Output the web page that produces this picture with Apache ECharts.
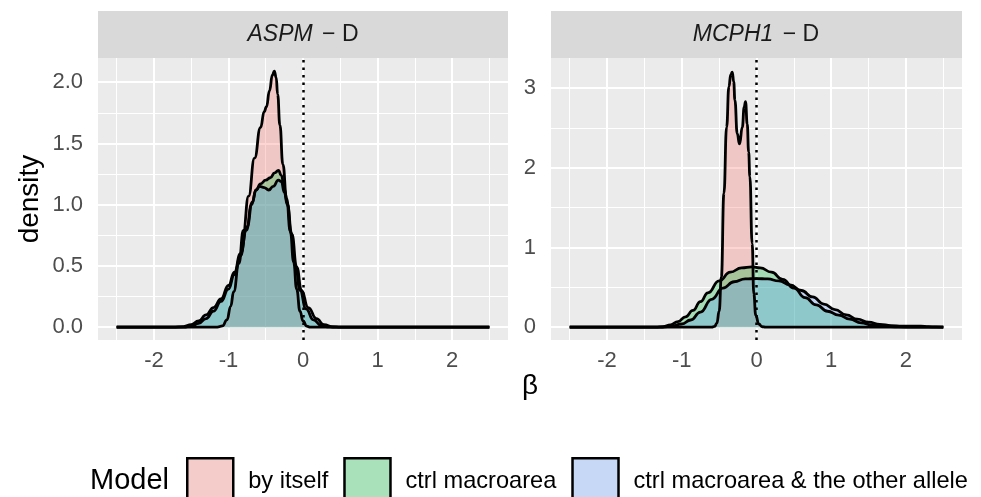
<!DOCTYPE html>
<html>
<head>
<meta charset="utf-8">
<title>ASPM / MCPH1 density</title>
<script src="https://cdn.jsdelivr.net/npm/echarts@6/dist/echarts.min.js"></script>
<style>
  html, body { margin: 0; padding: 0; background: #fff; }
  #chart { width: 981px; height: 497px; }
</style>
</head>
<body>
<div id="chart"></div>
<script>
// ---- data (beta, density) ----
const modelNames = ['by itself', 'ctrl macroarea', 'ctrl macroarea & the other allele']

// ASPM - D panel
const aspmByItselfX = [-2.5, -1.15, -1.08, -1.02, -0.97, -0.93, -0.86, -0.8, -0.73, -0.65, -0.57, -0.52, -0.49, -0.45, -0.41, -0.385, -0.36, -0.34, -0.31, -0.27, -0.22, -0.17, -0.125, -0.085, -0.04, 0, 0.05, 0.1, 2.5]
const aspmByItselfY = [0, 0, 0.01, 0.06, 0.17, 0.29, 0.52, 0.79, 1.07, 1.38, 1.63, 1.76, 1.8, 1.93, 2.06, 2.09, 2.04, 1.9, 1.65, 1.33, 1.05, 0.78, 0.53, 0.31, 0.13, 0.05, 0.008, 0, 0]
const aspmMacroX = [-2.5, -1.6, -1.5, -1.4, -1.3, -1.2, -1.1, -1.0, -0.92, -0.84, -0.76, -0.69, -0.63, -0.57, -0.5, -0.44, -0.38, -0.33, -0.29, -0.25, -0.21, -0.16, -0.1, -0.04, 0.04, 0.14, 0.24, 0.35, 0.45, 2.5]
const aspmMacroY = [0, 0, 0.008, 0.03, 0.07, 0.13, 0.21, 0.31, 0.43, 0.58, 0.79, 1.0, 1.12, 1.17, 1.2, 1.22, 1.26, 1.28, 1.24, 1.13, 1.01, 0.77, 0.5, 0.3, 0.15, 0.06, 0.015, 0.002, 0, 0]
const aspmAlleleX = [-2.5, -1.75, -1.6, -1.5, -1.4, -1.3, -1.2, -1.1, -1.0, -0.92, -0.84, -0.75, -0.68, -0.63, -0.58, -0.52, -0.46, -0.4, -0.33, -0.29, -0.25, -0.21, -0.15, -0.084, -0.02, 0.07, 0.18, 0.28, 0.4, 0.5, 2.5]
const aspmAlleleY = [0, 0, 0.005, 0.02, 0.05, 0.1, 0.16, 0.23, 0.34, 0.45, 0.6, 0.82, 1.02, 1.12, 1.15, 1.14, 1.12, 1.15, 1.2, 1.19, 1.1, 1.0, 0.76, 0.49, 0.3, 0.16, 0.07, 0.02, 0.003, 0, 0]

// MCPH1 - D panel
const mcphByItselfX = [-2.5, -0.6, -0.56, -0.53, -0.5, -0.47, -0.436, -0.4, -0.369, -0.345, -0.324, -0.305, -0.289, -0.258, -0.227, -0.19, -0.165, -0.147, -0.124, -0.105, -0.089, -0.058, -0.036, -0.01, 0.03, 0.076, 0.12, 2.5]
const mcphByItselfY = [0, 0, 0.01, 0.05, 0.2, 0.63, 1.68, 2.51, 3.02, 3.17, 3.2, 3.08, 2.85, 2.43, 2.3, 2.51, 2.76, 2.83, 2.55, 2.2, 1.89, 1.05, 0.42, 0.15, 0.04, 0.005, 0, 0]
const mcphMacroX = [-2.5, -1.35, -1.25, -1.15, -1.05, -0.95, -0.85, -0.75, -0.65, -0.5, -0.35, -0.2, -0.06, 0.05, 0.2, 0.35, 0.5, 0.65, 0.8, 0.95, 1.1, 1.25, 1.4, 1.55, 1.7, 1.9, 2.1, 2.5]
const mcphMacroY = [0, 0, 0.005, 0.03, 0.07, 0.13, 0.21, 0.32, 0.43, 0.58, 0.69, 0.745, 0.757, 0.745, 0.69, 0.6, 0.49, 0.37, 0.28, 0.2, 0.15, 0.1, 0.055, 0.025, 0.012, 0.004, 0, 0]
const mcphAlleleX = [-2.5, -1.3, -1.15, -1.0, -0.88, -0.75, -0.6, -0.45, -0.3, -0.15, 0, 0.15, 0.3, 0.45, 0.6, 0.75, 0.9, 1.05, 1.2, 1.35, 1.5, 1.65, 1.8, 1.95, 2.1, 2.2, 2.3, 2.4, 2.5]
const mcphAlleleY = [0, 0, 0.01, 0.04, 0.09, 0.19, 0.35, 0.49, 0.57, 0.605, 0.61, 0.605, 0.58, 0.53, 0.46, 0.38, 0.29, 0.22, 0.155, 0.1, 0.063, 0.035, 0.02, 0.013, 0.012, 0.012, 0.007, 0.003, 0.001]

// axis ticks
const xTicks = [-2, -1, 0, 1, 2]
const xMinor = [-2.5, -1.5, -0.5, 0.5, 1.5, 2.5]
const aspmYTicks = [0, 0.5, 1, 1.5, 2]
const aspmYMinor = [0.25, 0.75, 1.25, 1.75]
const mcphYTicks = [0, 1, 2, 3]
const mcphYMinor = [0.5, 1.5, 2.5]

const FONT = 'Liberation Sans, Arial, Helvetica, sans-serif'
// ggplot hue palette with alpha 0.3
const fills = ['rgba(248,118,109,0.3)', 'rgba(0,186,56,0.3)', 'rgba(97,156,255,0.3)']
// same fills as seen on the gray95 legend key background
const keyFills = ['rgb(244,205,202)', 'rgb(169,225,186)', 'rgb(199,216,246)']

const chart = echarts.init(document.getElementById('chart'), null, { renderer: 'canvas' })

function zip (xs, ys) {
  return xs.map((x, i) => [x, ys[i]])
}

function densitySeries (name, xs, ys, k, idx) {
  return {
    name: name,
    type: 'line',
    xAxisIndex: idx,
    yAxisIndex: idx,
    data: zip(xs, ys),
    smooth: 0.5,
    smoothMonotone: 'x',
    symbol: 'none',
    color: keyFills[k],
    lineStyle: { color: '#000', width: 2.8 },
    areaStyle: { color: fills[k], opacity: 1 },
    z: 3,
    silent: true
  }
}

// panel grid lines (white, major + minor) drawn under the densities
function gridSeries (idx, yTicks, yMinor) {
  const lines = []
  xMinor.forEach(v => lines.push({ xAxis: v, lineStyle: { width: 1 } }))
  yMinor.forEach(v => lines.push({ yAxis: v, lineStyle: { width: 1 } }))
  xTicks.forEach(v => lines.push({ xAxis: v, lineStyle: { width: 2 } }))
  yTicks.forEach(v => lines.push({ yAxis: v, lineStyle: { width: 2 } }))
  return {
    type: 'line',
    xAxisIndex: idx,
    yAxisIndex: idx,
    data: [],
    z: 1,
    silent: true,
    markLine: {
      z: 1,
      silent: true,
      symbol: ['none', 'none'],
      label: { show: false },
      lineStyle: { color: '#fff', type: 'solid' },
      emphasis: { disabled: true },
      data: lines
    }
  }
}

function zeroLine (idx) {
  return {
    type: 'line',
    xAxisIndex: idx,
    yAxisIndex: idx,
    data: [],
    z: 10,
    silent: true,
    markLine: {
      z: 10,
      silent: true,
      symbol: ['none', 'none'],
      label: { show: false },
      lineStyle: { color: '#000', width: 2.5, type: [2.5, 5] },
      emphasis: { disabled: true },
      data: [{ xAxis: 0 }]
    }
  }
}

function xAxisFor (idx) {
  return {
    type: 'value',
    gridIndex: idx,
    min: -2.75,
    max: 2.75,
    axisLine: { show: false },
    splitLine: { show: false },
    axisTick: { show: true, customValues: xTicks, length: 7, lineStyle: { color: '#333', width: 2 } },
    axisLabel: { customValues: xTicks, margin: 10, fontSize: 22, fontFamily: FONT, color: '#4D4D4D' }
  }
}

function yAxisFor (idx, min, max, ticks, fmt) {
  return {
    type: 'value',
    gridIndex: idx,
    min: min,
    max: max,
    axisLine: { show: false },
    splitLine: { show: false },
    axisTick: { show: true, customValues: ticks, length: 7, lineStyle: { color: '#333', width: 2 } },
    axisLabel: { customValues: ticks, margin: 15, fontSize: 22, fontFamily: FONT, color: '#4D4D4D', formatter: fmt }
  }
}

const stripText = (x, gene) => ({
  type: 'text',
  x: x,
  y: 35,
  style: {
    text: '{i|' + gene + '}{n| − D}',
    align: 'center',
    verticalAlign: 'middle',
    rich: {
      i: { fontStyle: 'italic', fontSize: 23, fontFamily: FONT, fill: '#1A1A1A', padding: [0, 3, 0, 0] },
      n: { fontSize: 23, fontFamily: FONT, fill: '#1A1A1A' }
    }
  }
})

const option = {
  backgroundColor: '#fff',
  animation: false,
  grid: [
    { left: 98, top: 58, width: 410, height: 282, show: true, backgroundColor: '#EBEBEB', borderWidth: 0 },
    { left: 551, top: 58, width: 411, height: 282, show: true, backgroundColor: '#EBEBEB', borderWidth: 0 }
  ],
  xAxis: [xAxisFor(0), xAxisFor(1)],
  yAxis: [
    Object.assign(yAxisFor(0, -0.105, 2.198, aspmYTicks, v => v.toFixed(1)), {
      name: 'density',
      nameLocation: 'middle',
      nameGap: 54,
      nameTextStyle: { fontSize: 28, fontFamily: FONT, color: '#000' }
    }),
    yAxisFor(1, -0.161, 3.378, mcphYTicks, v => String(v))
  ],
  legend: {
    left: 186,
    top: 457,
    padding: 0,
    itemWidth: 46,
    itemHeight: 46,
    itemGap: 15,
    icon: 'rect',
    selectedMode: false,
    itemStyle: { borderColor: '#000', borderWidth: 2.5 },
    textStyle: { fontSize: 23.6, fontFamily: FONT, color: '#000', padding: [0, 0, 0, 10] },
    data: modelNames.map((n, k) => ({ name: n, itemStyle: { color: keyFills[k] } }))
  },
  graphic: [
    { type: 'rect', shape: { x: 98, y: 11, width: 410, height: 47 }, style: { fill: '#D9D9D9' } },
    { type: 'rect', shape: { x: 551, y: 11, width: 411, height: 47 }, style: { fill: '#D9D9D9' } },
    stripText(303, 'ASPM'),
    stripText(756, 'MCPH1'),
    {
      type: 'text', x: 530, y: 386,
      style: { text: 'β', fontSize: 28, fontFamily: FONT, fill: '#000', align: 'center', verticalAlign: 'middle' }
    },
    {
      type: 'text', x: 90, y: 481,
      style: { text: 'Model', fontSize: 29, fontFamily: FONT, fill: '#000', align: 'left', verticalAlign: 'middle' }
    }
  ],
  series: [
    gridSeries(0, aspmYTicks, aspmYMinor),
    gridSeries(1, mcphYTicks, mcphYMinor),
    densitySeries(modelNames[0], aspmByItselfX, aspmByItselfY, 0, 0),
    densitySeries(modelNames[1], aspmMacroX, aspmMacroY, 1, 0),
    densitySeries(modelNames[2], aspmAlleleX, aspmAlleleY, 2, 0),
    densitySeries(modelNames[0], mcphByItselfX, mcphByItselfY, 0, 1),
    densitySeries(modelNames[1], mcphMacroX, mcphMacroY, 1, 1),
    densitySeries(modelNames[2], mcphAlleleX, mcphAlleleY, 2, 1),
    zeroLine(0),
    zeroLine(1)
  ]
}

chart.setOption(option)
</script>
</body>
</html>
